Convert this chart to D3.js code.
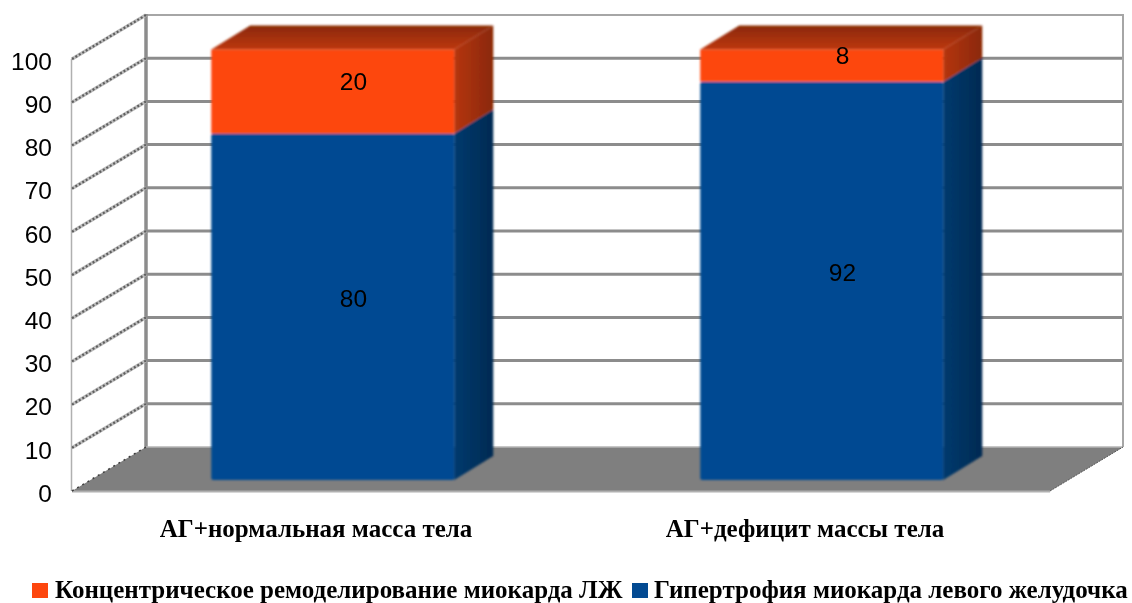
<!DOCTYPE html>
<html><head><meta charset="utf-8">
<script src="https://d3js.org/d3.v7.min.js"></script>
<style>html,body{margin:0;padding:0;background:#fff}svg{display:block}</style></head>
<body><svg id="c" width="1132" height="603"></svg>
<script>
const categories = ["АГ+нормальная масса тела", "АГ+дефицит массы тела"];
const seriesNames = ["Гипертрофия миокарда левого желудочка", "Концентрическое ремоделирование миокарда ЛЖ"];
const hypertrophy = [80, 92];
const remodeling = [20, 8];
const tickValues = [0,10,20,30,40,50,60,70,80,90,100];
const W=1132,H=603;
const svg=d3.select("#c");
const defs=svg.append("defs");
function grad(id,x2,y2,stops){const g=defs.append("linearGradient").attr("id",id).attr("x1",0).attr("y1",0).attr("x2",x2).attr("y2",y2);
 stops.forEach(s=>g.append("stop").attr("offset",s[0]).attr("stop-color",s[1]));}
grad("topO",0,1,[[0,"#8a2806"],[1,"#bd3810"]]);
grad("sideO",1,0,[[0,"#b5350f"],[1,"#8a2806"]]);
grad("sideB",1,0,[[0,"#033a6e"],[1,"#002a52"]]);
defs.append("filter").attr("id","soft").append("feGaussianBlur").attr("stdDeviation",0.9);
defs.append("filter").attr("id","softText").append("feGaussianBlur").attr("stdDeviation",0.35);
const x=d3.scaleBand().domain(categories).range([72,1050]).paddingInner(0.5).paddingOuter(0.25);
const y=d3.scaleLinear().domain([0,100]).range([491,59]);
const barH=d3.scaleLinear().domain([0,100]).range([480,47]);
const capTop=49.5;
const barY=v=>Math.max(barH(v),capTop);
const depth={x:74,y:-44};
const barFront={x:17},barDepth={x:39,y:-24};
const P=a=>a.map(p=>p.join(",")).join(" ");

// floor
svg.append("polygon").attr("points",P([[x.range()[0],y(0)],[x.range()[0]+depth.x,y(0)+depth.y],[x.range()[1]+depth.x-1,y(0)+depth.y],[x.range()[1],y(0)]])).attr("fill","#7f7f7f");
svg.append("line").attr("x1",72).attr("x2",1050).attr("y1",y(0)+.5).attr("y2",y(0)+.5).attr("stroke","#b0b0b0").attr("stroke-width",2);
// back wall gridlines
const grid=svg.append("g");
grid.selectAll("line.g").data(tickValues.filter(d=>d>0&&d<100)).join("line")
 .attr("x1",72+depth.x).attr("x2",1050+depth.x-1).attr("y1",d=>y(d)+depth.y).attr("y2",d=>y(d)+depth.y)
 .attr("stroke","#8c8c8c").attr("stroke-width",3);
grid.append("line").attr("x1",144).attr("x2",1124).attr("y1",y(100)+depth.y).attr("y2",y(100)+depth.y).attr("stroke","#a6a6a6").attr("stroke-width",2);
grid.append("line").attr("x1",146).attr("x2",146).attr("y1",14).attr("y2",y(0)+depth.y).attr("stroke","#8c8c8c").attr("stroke-width",3.5);
grid.append("line").attr("x1",1123).attr("x2",1123).attr("y1",14).attr("y2",y(0)+depth.y).attr("stroke","#a6a6a6").attr("stroke-width",2);
grid.append("line").attr("x1",146).attr("x2",1123).attr("y1",y(0)+depth.y).attr("y2",y(0)+depth.y).attr("stroke","#b5b5b5").attr("stroke-width",1.5);
// left wall
grid.append("line").attr("x1",71.5).attr("x2",71.5).attr("y1",y(100)).attr("y2",y(0)).attr("stroke","#b0b0b0").attr("stroke-width",1.5);
const wallTicks=tickValues;
const wallLine=g=>g.attr("x1",72).attr("x2",72+depth.x).attr("y1",d=>y(d)).attr("y2",d=>y(d)+depth.y);
grid.selectAll("line.w1").data(wallTicks.filter(d=>d>0)).join("line").call(wallLine).attr("stroke","#bdbdbd").attr("stroke-width",3.5);
grid.selectAll("line.w2").data(wallTicks.filter(d=>d>0)).join("line").call(wallLine).attr("stroke","#5e5e5e").attr("stroke-width",2.2).attr("stroke-dasharray","2 2");
grid.selectAll("line.w3").data([0]).join("line").call(wallLine).attr("stroke","#3e3e3e").attr("stroke-width",1.5).attr("stroke-dasharray","2 4");
// right floor edge
svg.append("line").attr("x1",1050).attr("y1",y(0)).attr("x2",1050+depth.x-1).attr("y2",y(0)+depth.y).attr("stroke","#555").attr("stroke-width",1).attr("stroke-dasharray","2 1");

// bars
const stack=d3.stack().keys([0,1]).value((d,k)=>d[k])(hypertrophy.map((h,i)=>[h,remodeling[i]]));
const colors=[{f:"#034a92",s:"url(#sideB)"},{f:"#fd460e",s:"url(#sideO)"}];
const bars=svg.append("g").attr("filter","url(#soft)");
categories.forEach((c,i)=>{
 const L=x(c)+barFront.x,R=L+x.bandwidth()-1.5;
 stack.forEach((layer,k)=>{
  const y0=barY(layer[i][0]),y1=barY(layer[i][1]);
  bars.append("polygon").attr("points",P([[R,y0],[R+barDepth.x,y0+barDepth.y],[R+barDepth.x,y1+barDepth.y],[R,y1]])).attr("fill",colors[k].s);
  bars.append("rect").attr("x",L).attr("y",y1).attr("width",R-L).attr("height",y0-y1).attr("rx",k===0?2:0).attr("fill",colors[k].f);
 });
 const t=barY(100);
 bars.append("polygon").attr("points",P([[L,t],[L+barDepth.x,t+barDepth.y],[R+barDepth.x,t+barDepth.y],[R,t]])).attr("fill","url(#topO)");
});
// data labels
const lab=svg.append("g").attr("filter","url(#softText)").attr("font-family","'Liberation Sans',Arial,sans-serif").attr("font-size",24.5).attr("fill","#000").attr("text-anchor","middle");
const labelLift=[9,10];
categories.forEach((c,i)=>{
 const cx=x(c)+barFront.x+x.bandwidth()/2+20;
 stack.forEach((layer,k)=>{
  lab.append("text").attr("x",cx).attr("y",(barY(layer[i][0])+barY(layer[i][1]))/2-labelLift[k]).attr("dy","0.36em").text(layer[i][1]-layer[i][0]);
 });
});
// y ticks
svg.append("g").attr("filter","url(#softText)").attr("font-family","'Liberation Sans',Arial,sans-serif").attr("font-size",24.5).attr("fill","#000").attr("text-anchor","end")
 .selectAll("text").data(tickValues).join("text").attr("x",52).attr("y",d=>y(d)+2).attr("dy","0.36em").text(d=>d);
// category labels
svg.append("g").attr("filter","url(#softText)").attr("font-family","'Liberation Serif',serif").attr("font-weight","bold").attr("font-size",25).attr("fill","#000").attr("text-anchor","middle")
 .selectAll("text").data(categories).join("text").attr("x",(d,i)=>[316,805][i]).attr("y",537).text(d=>d);
// legend
const legend=svg.append("g").attr("font-family","'Liberation Serif',serif").attr("font-weight","bold").attr("font-size",25).attr("fill","#000");
const legendItems=[{i:1,sx:32,tx:55,c:"#fd460e"},{i:0,sx:632,tx:654,c:"#034a92"}];
legend.selectAll("rect").data(legendItems).join("rect").attr("x",d=>d.sx).attr("y",583).attr("width",16).attr("height",15).attr("fill",d=>d.c);
legend.selectAll("text").data(legendItems).join("text").attr("filter","url(#softText)").attr("x",d=>d.tx).attr("y",598).text(d=>seriesNames[d.i]);
</script></body></html>
